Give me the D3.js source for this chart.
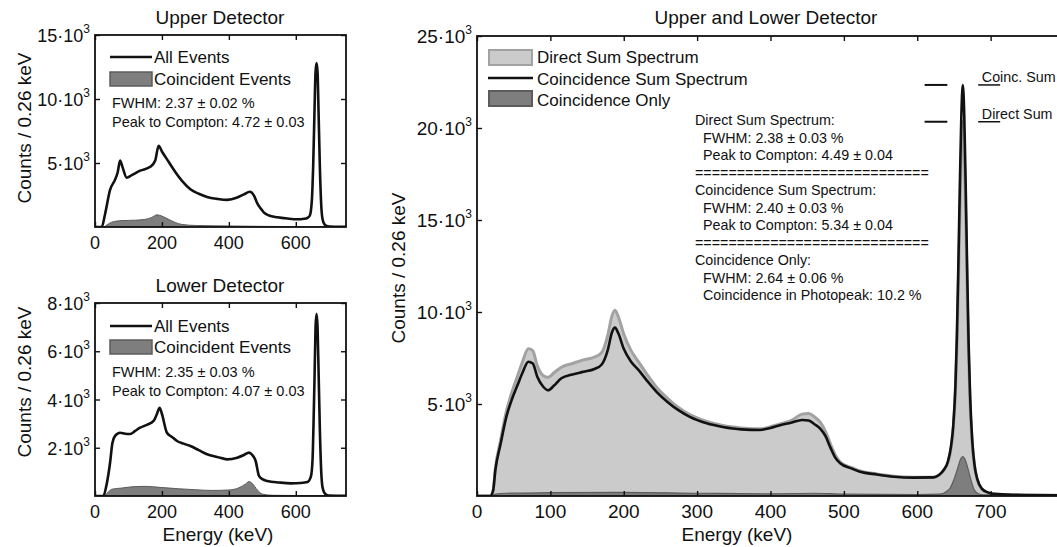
<!DOCTYPE html>
<html>
<head>
<meta charset="utf-8">
<script src="https://cdn.jsdelivr.net/npm/d3@7"></script>
<style>
  body { margin: 0; background: #fff; }
  text { font-family: "Liberation Sans", Arial, sans-serif; fill: #111; }
</style>
</head>
<body>
<svg id="chart" width="1057" height="547"></svg>
<script>
// -------------------------------------------------
// Data (energy in keV, counts per 0.26 keV bin)
// -------------------------------------------------
const upperAllE = [0, 15, 20, 30, 45, 60, 68, 75, 82, 95, 110, 135, 165, 180, 190, 200, 220, 240, 260, 285, 310, 335, 365, 395, 425, 445, 463, 475, 485, 495, 505, 520, 545, 575, 605, 625, 635, 642, 648, 652, 656, 659, 662, 665, 668, 672, 676, 680, 686, 692, 700, 720, 750];
const upperAllC = [0, 0, 0, 1000, 2900, 3700, 4300, 5200, 4700, 3850, 4050, 4400, 4700, 5200, 6350, 5900, 5100, 4300, 3600, 2950, 2600, 2350, 2200, 2120, 2300, 2550, 2750, 2450, 1850, 1450, 1120, 900, 760, 660, 600, 640, 720, 900, 2100, 4850, 9200, 12100, 12800, 12100, 9000, 4600, 1700, 600, 200, 90, 40, 20, 10];
const upperCoincE = [0, 25, 35, 50, 80, 120, 150, 170, 185, 200, 220, 240, 260, 300, 400, 500, 600, 750];
const upperCoincC = [0, 0, 150, 380, 500, 530, 600, 750, 950, 850, 600, 350, 200, 120, 80, 50, 30, 10];

const lowerAllE = [0, 15, 25, 35, 45, 52, 60, 75, 90, 105, 120, 135, 155, 175, 185, 193, 200, 215, 230, 245, 265, 285, 310, 335, 365, 395, 425, 445, 460, 470, 480, 490, 500, 515, 550, 585, 615, 635, 645, 650, 653, 656, 659, 662, 665, 668, 672, 676, 680, 686, 692, 700, 750];
const lowerAllC = [0, 0, 0, 500, 1380, 2200, 2490, 2620, 2580, 2570, 2700, 2830, 2950, 3110, 3400, 3660, 3400, 2620, 2450, 2280, 2170, 2070, 1900, 1730, 1620, 1520, 1590, 1700, 1800, 1700, 1450, 830, 700, 620, 560, 525, 540, 580, 800, 1500, 3000, 4900, 7000, 7550, 7000, 5200, 2700, 1000, 350, 120, 50, 20, 10];
const lowerCoincE = [0, 25, 35, 50, 80, 120, 150, 200, 250, 300, 350, 400, 430, 450, 460, 470, 485, 500, 530, 600, 750];
const lowerCoincC = [0, 0, 100, 280, 330, 390, 400, 350, 300, 260, 230, 250, 340, 500, 600, 520, 250, 80, 30, 20, 10];

const sumE = [0, 18, 22, 25, 32, 40, 48, 55, 62, 70, 76, 82, 90, 97, 105, 115, 130, 145, 160, 170, 178, 184, 188, 193, 200, 210, 220, 231, 245, 260, 275, 290, 313, 335, 360, 386, 400, 413, 428, 443, 452, 460, 468, 475, 482, 488, 495, 510, 522, 545, 568, 595, 622, 630, 636, 642, 646, 649, 652, 654, 656, 658, 660, 662, 664, 666, 668, 670, 672, 675, 678, 682, 688, 696, 704, 730, 800];
const directSumC = [0, 0, 300, 1500, 3000, 4600, 5700, 6500, 7300, 8000, 7900, 7100, 6550, 6450, 6700, 7000, 7200, 7400, 7550, 7800, 8700, 9800, 10100, 9700, 8800, 7900, 7300, 6650, 5900, 5300, 4800, 4420, 4050, 3830, 3700, 3650, 3760, 3920, 4100, 4450, 4490, 4300, 4000, 3500, 2800, 2250, 1850, 1550, 1360, 1200, 1080, 1020, 1020, 1150, 1400, 1850, 2600, 3600, 5600, 8000, 11400, 15200, 18500, 20340, 18900, 15300, 11300, 7600, 5000, 2800, 1600, 850, 380, 190, 110, 60, 40];
const coincSumC = [0, 0, 300, 1400, 2800, 4300, 5300, 6000, 6700, 7300, 7200, 6500, 5950, 5750, 6000, 6400, 6600, 6750, 6900, 7150, 7900, 8900, 9150, 8800, 8000, 7300, 6850, 6300, 5650, 5100, 4650, 4300, 3950, 3750, 3620, 3590, 3700, 3850, 3980, 4130, 4100, 3900, 3650, 3250, 2600, 2100, 1780, 1500, 1320, 1170, 1050, 1000, 1010, 1150, 1410, 1900, 2700, 3800, 6000, 8700, 12500, 16800, 20500, 22340, 20800, 16900, 12400, 8300, 5500, 3000, 1700, 900, 400, 200, 120, 70, 40];
const coincOnlyE = [0, 20, 25, 40, 100, 200, 300, 400, 460, 500, 600, 630, 640, 645, 650, 655, 659, 662, 665, 669, 673, 677, 682, 690, 800];
const coincOnlyC = [0, 0, 100, 150, 180, 200, 150, 120, 150, 100, 80, 100, 250, 450, 900, 1500, 2000, 2140, 2000, 1500, 900, 400, 150, 60, 20];

// Tick values and the tick labels that are printed
const leftXTicks = [0, 200, 400, 600];
const rightXTicks = [0, 100, 200, 300, 400, 500, 600, 700, 800];
const rightXLabels = [0, 100, 200, 300, 400, 500, 600, 700];
const upperYTicks = [5000, 10000, 15000];
const lowerYTicks = [2000, 4000, 6000, 8000];
const rightYTicks = [5000, 10000, 15000, 20000, 25000];

// Text blocks
const upperStats = ["FWHM: 2.37 \u00b1 0.02 %", "Peak to Compton: 4.72 \u00b1 0.03"];
const lowerStats = ["FWHM: 2.35 \u00b1 0.03 %", "Peak to Compton: 4.07 \u00b1 0.03"];
const sep = "=".repeat(28);
const rightStats = [
  ["Direct Sum Spectrum:", 0],
  ["FWHM: 2.38 \u00b1 0.03 %", 1],
  ["Peak to Compton: 4.49 \u00b1 0.04", 1],
  [sep, 0],
  ["Coincidence Sum Spectrum:", 0],
  ["FWHM: 2.40 \u00b1 0.03 %", 1],
  ["Peak to Compton: 5.34 \u00b1 0.04", 1],
  [sep, 0],
  ["Coincidence Only:", 0],
  ["FWHM: 2.64 \u00b1 0.06 %", 1],
  ["Coincidence in Photopeak: 10.2 %", 1]
];

const LIGHT = "#cbcbcb", LIGHT_EDGE = "#a2a2a2", DARK = "#7e7e7e", DARK_EDGE = "#5c5c5c";

const svg = d3.select("#chart");

// -------------------------------------------------
// Generic panel: scales, frame, inward ticks, labels
// -------------------------------------------------
function makePanel(cfg) {
  const x = d3.scaleLinear().domain(cfg.xDomain).range([cfg.left, cfg.right]);
  const y = d3.scaleLinear().domain(cfg.yDomain).range([cfg.bottom, cfg.top]);
  const g = svg.append("g");

  svg.append("clipPath").attr("id", cfg.id)
    .append("rect")
    .attr("x", cfg.left).attr("y", cfg.top)
    .attr("width", cfg.right - cfg.left).attr("height", cfg.bottom - cfg.top);

  const plot = g.append("g").attr("clip-path", `url(#${cfg.id})`);
  return { x, y, g, plot, cfg };
}

function finishPanel(p) {
  const { x, y, g, cfg } = p;
  const noDomain = (a) => a.select(".domain").remove();
  const styleTicks = (a) => a.selectAll("line").attr("stroke", "#111").attr("stroke-width", 1.4);

  g.append("g").attr("transform", `translate(0,${cfg.bottom})`)
    .call(d3.axisBottom(x).tickValues(cfg.xTicks).tickSize(-5).tickFormat(""))
    .call(noDomain).call(styleTicks);
  g.append("g").attr("transform", `translate(0,${cfg.top})`)
    .call(d3.axisTop(x).tickValues(cfg.xTicks).tickSize(-5).tickFormat(""))
    .call(noDomain).call(styleTicks);
  g.append("g").attr("transform", `translate(${cfg.left},0)`)
    .call(d3.axisLeft(y).tickValues(cfg.yTicks).tickSize(-5).tickFormat(""))
    .call(noDomain).call(styleTicks);
  g.append("g").attr("transform", `translate(${cfg.right},0)`)
    .call(d3.axisRight(y).tickValues(cfg.yTicks).tickSize(-5).tickFormat(""))
    .call(noDomain).call(styleTicks);

  g.append("rect")
    .attr("x", cfg.left).attr("y", cfg.top)
    .attr("width", cfg.right - cfg.left).attr("height", cfg.bottom - cfg.top)
    .attr("fill", "none").attr("stroke", "#111").attr("stroke-width", 1.8);

  // x tick labels
  g.selectAll(".xlab").data(cfg.xLabels || cfg.xTicks).enter().append("text")
    .attr("class", "xlab")
    .attr("x", (d) => x(d)).attr("y", cfg.bottom + 22)
    .attr("text-anchor", "middle")
    .style("font-size", cfg.tickFont + "px")
    .text((d) => d);

  // y tick labels like 15·10^3
  cfg.yTicks.forEach((v) => {
    const t = g.append("text")
      .attr("x", cfg.left - 5).attr("y", y(v) + 7)
      .attr("text-anchor", "end")
      .style("font-size", cfg.tickFont + "px");
    t.append("tspan").text(`${v / 1000}\u00b710`);
    t.append("tspan").attr("dy", -9).style("font-size", "12px").text("3");
  });

  // title
  g.append("text")
    .attr("x", cfg.titleX).attr("y", cfg.titleY)
    .attr("text-anchor", "middle").style("font-size", "19px")
    .text(cfg.title);

  // y label
  g.append("text")
    .attr("transform", `translate(${cfg.yLabelX},${cfg.yLabelY}) rotate(-90)`)
    .attr("text-anchor", "middle").style("font-size", "19px")
    .text("Counts / 0.26 keV");

  if (cfg.xLabelY) {
    g.append("text")
      .attr("x", cfg.xLabelX).attr("y", cfg.xLabelY)
      .attr("text-anchor", "middle").style("font-size", "19px")
      .text("Energy (keV)");
  }
}

function series(E, C) {
  return d3.zip(E, C);
}

function addArea(p, data, fill, stroke, sw) {
  const area = d3.area()
    .x((d) => p.x(d[0])).y0(p.y(0)).y1((d) => p.y(d[1]))
    .curve(d3.curveMonotoneX);
  p.plot.append("path").datum(data)
    .attr("d", area).attr("fill", fill)
    .attr("stroke", stroke).attr("stroke-width", sw);
}

function addLine(p, data, stroke, sw) {
  const line = d3.line()
    .x((d) => p.x(d[0])).y((d) => p.y(d[1]))
    .curve(d3.curveMonotoneX);
  p.plot.append("path").datum(data)
    .attr("d", line).attr("fill", "none")
    .attr("stroke", stroke).attr("stroke-width", sw)
    .attr("stroke-linejoin", "round");
}

// small legend used in the two left panels
function leftLegend(g, lineY, boxY, stats, statsY) {
  g.append("line").attr("x1", 110).attr("x2", 152).attr("y1", lineY).attr("y2", lineY)
    .attr("stroke", "#111").attr("stroke-width", 2.4);
  g.append("text").attr("x", 154).attr("y", lineY + 6).style("font-size", "17px").text("All Events");
  g.append("rect").attr("x", 110).attr("y", boxY).attr("width", 42).attr("height", 14)
    .attr("fill", DARK).attr("stroke", DARK_EDGE).attr("stroke-width", 1.5);
  g.append("text").attr("x", 154).attr("y", boxY + 13).style("font-size", "17px").text("Coincident Events");
  stats.forEach((s, i) => {
    g.append("text").attr("x", 112).attr("y", statsY + i * 19)
      .style("font-size", "14.5px").text(s);
  });
}

// -------------------------------------------------
// Upper detector
// -------------------------------------------------
const upper = makePanel({
  id: "clipUpper", left: 95, right: 346, top: 35, bottom: 227,
  xDomain: [0, 750], yDomain: [0, 15000],
  xTicks: leftXTicks, yTicks: upperYTicks, tickFont: 18,
  title: "Upper Detector", titleX: 220, titleY: 24,
  yLabelX: 31, yLabelY: 128
});
addArea(upper, series(upperCoincE, upperCoincC), DARK, DARK_EDGE, 1);
addLine(upper, series(upperAllE, upperAllC), "#111", 2.6);
finishPanel(upper);
leftLegend(upper.g, 57, 72, upperStats, 108);

// -------------------------------------------------
// Lower detector
// -------------------------------------------------
const lower = makePanel({
  id: "clipLower", left: 95, right: 346, top: 303, bottom: 496,
  xDomain: [0, 750], yDomain: [0, 8000],
  xTicks: leftXTicks, yTicks: lowerYTicks, tickFont: 18,
  title: "Lower Detector", titleX: 220, titleY: 292,
  yLabelX: 31, yLabelY: 382,
  xLabelX: 218, xLabelY: 541
});
addArea(lower, series(lowerCoincE, lowerCoincC), DARK, DARK_EDGE, 1);
addLine(lower, series(lowerAllE, lowerAllC), "#111", 2.6);
finishPanel(lower);
leftLegend(lower.g, 326, 340, lowerStats, 377);

// -------------------------------------------------
// Upper and lower detector (sum spectra)
// -------------------------------------------------
const both = makePanel({
  id: "clipBoth", left: 477, right: 1064, top: 36, bottom: 496,
  xDomain: [0, 800], yDomain: [0, 25000],
  xTicks: rightXTicks, xLabels: rightXLabels, yTicks: rightYTicks, tickFont: 19,
  title: "Upper and Lower Detector", titleX: 766, titleY: 24,
  yLabelX: 405, yLabelY: 268,
  xLabelX: 737, xLabelY: 541
});
addArea(both, series(sumE, directSumC), LIGHT, "none", 0);
addLine(both, series(sumE, directSumC), LIGHT_EDGE, 3);
addArea(both, series(coincOnlyE, coincOnlyC), DARK, DARK_EDGE, 1.2);
addLine(both, series(sumE, coincSumC), "#111", 2.6);
finishPanel(both);

// legend
const bg = both.g;
bg.append("rect").attr("x", 489).attr("y", 50).attr("width", 43).attr("height", 15)
  .attr("fill", LIGHT).attr("stroke", LIGHT_EDGE).attr("stroke-width", 2);
bg.append("text").attr("x", 537).attr("y", 63).style("font-size", "17px").text("Direct Sum Spectrum");
bg.append("line").attr("x1", 488).attr("x2", 533).attr("y1", 78).attr("y2", 78)
  .attr("stroke", "#111").attr("stroke-width", 2.4);
bg.append("text").attr("x", 537).attr("y", 84.5).style("font-size", "17px").text("Coincidence Sum Spectrum");
bg.append("rect").attr("x", 489).attr("y", 91).attr("width", 43).attr("height", 15)
  .attr("fill", DARK).attr("stroke", DARK_EDGE).attr("stroke-width", 2);
bg.append("text").attr("x", 537).attr("y", 105.5).style("font-size", "17px").text("Coincidence Only");

// statistics block
rightStats.forEach(([s, indent], i) => {
  bg.append("text")
    .attr("x", indent ? 703 : 695).attr("y", 125 + i * 17.5)
    .style("font-size", "14.3px").text(s);
});

// peak height markers
const peakMarks = [
  { label: "Coinc. Sum", value: d3.max(coincSumC) },
  { label: "Direct Sum", value: d3.max(directSumC) }
];
peakMarks.forEach((m) => {
  const yy = both.y(m.value);
  bg.append("line").attr("x1", both.x(610)).attr("x2", both.x(641)).attr("y1", yy).attr("y2", yy)
    .attr("stroke", "#111").attr("stroke-width", 2);
  bg.append("line").attr("x1", both.x(683)).attr("x2", both.x(713)).attr("y1", yy).attr("y2", yy)
    .attr("stroke", "#111").attr("stroke-width", 1.5);
  bg.append("text").attr("x", both.x(688)).attr("y", yy - 3)
    .style("font-size", "14.3px").text(m.label);
});
</script>
</body>
</html>
